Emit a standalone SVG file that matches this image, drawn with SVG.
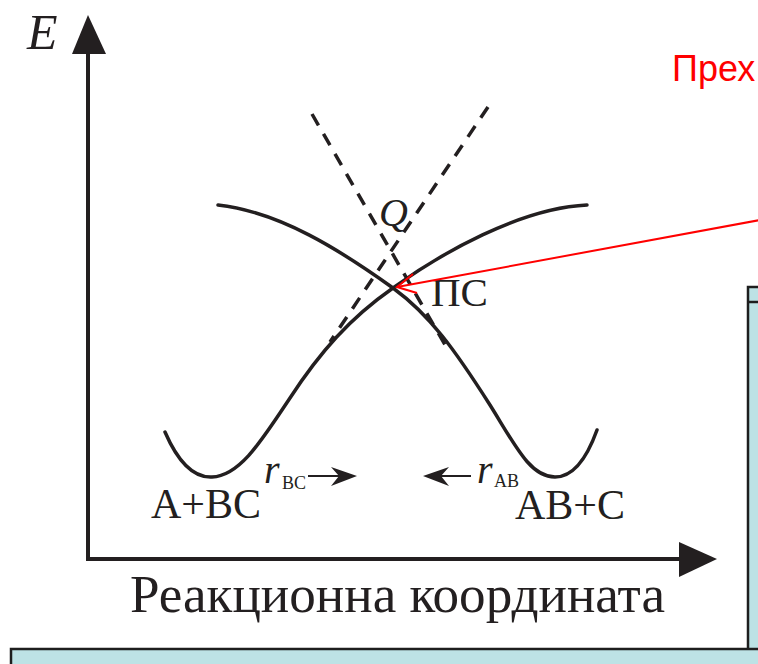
<svg xmlns="http://www.w3.org/2000/svg" width="758" height="664" viewBox="0 0 758 664">
  <style>
    .serif { font-family: "Liberation Serif", "Times New Roman", serif; fill: #231f20; }
    .ital { font-style: italic; }
    .curve { fill: none; stroke: #231f20; stroke-width: 3.5; stroke-linecap: round; }
    .dash { fill: none; stroke: #231f20; stroke-width: 3.5; stroke-dasharray: 13 10; }
    .axis { fill: none; stroke: #231f20; stroke-width: 4; }
    .head { fill: #231f20; }
    .panel { fill: #bde2e5; stroke: #1e1e1e; stroke-width: 2.5; }
    .red { font-family: "Liberation Sans", Arial, sans-serif; fill: #ff0000; }
  </style>
  <rect width="758" height="664" fill="#ffffff"/>

  <g id="panels">
    <rect class="panel" x="748" y="287" width="20" height="370"/>
    <line x1="748" y1="302" x2="758" y2="302" stroke="#1e1e1e" stroke-width="2.5"/>
    <rect class="panel" x="11" y="649" width="760" height="30"/>
  </g>

  <g id="axes">
    <polyline class="axis" points="88,45 88,559 690,559"/>
    <polygon class="head" points="88,15 106,54 72,54"/>
    <polygon class="head" points="717,559 679,542 679,577"/>
    <text class="serif ital" x="27" y="49" font-size="50">E</text>
    <text class="serif" x="130" y="612" font-size="53" textLength="535" lengthAdjust="spacingAndGlyphs">Реакционна координата</text>
  </g>

  <g id="connectors">
    <line class="dash" x1="312" y1="114" x2="448" y2="350"/>
    <line class="dash" x1="488" y1="107" x2="330" y2="342"/>
    <path class="curve" d="M165,432 C178,462 193,478 212,477 C240,476 262,440 290,398 C320,352 350,318 393,288 C440,254 520,208 587,205"/>
    <path class="curve" d="M218,205 C280,212 340,250 393,288 C430,315 455,350 490,405 C515,445 530,477 555,477 C575,477 588,455 597,430"/>
  </g>

  <g id="label-Q">
    <text class="serif ital" x="379" y="226" font-size="40">Q</text>
  </g>

  <g id="label-TS">
    <text class="serif" x="431" y="306" font-size="41">ПС</text>
  </g>

  <g id="label-reactants">
    <text class="serif" x="151" y="518" font-size="42">A+BC</text>
    <text class="serif ital" x="264" y="483" font-size="40">r</text>
    <text class="serif" x="282" y="489" font-size="18">BC</text>
    <line x1="308" y1="476" x2="340" y2="476" stroke="#231f20" stroke-width="2"/>
    <polygon class="head" points="357,476 331,467 339,476 331,486"/>
  </g>

  <g id="label-products">
    <text class="serif" x="515" y="519" font-size="42">AB+C</text>
    <text class="serif ital" x="477" y="483" font-size="40">r</text>
    <text class="serif" x="494" y="487" font-size="18">AB</text>
    <line x1="440" y1="476" x2="471" y2="476" stroke="#231f20" stroke-width="2"/>
    <polygon class="head" points="423,476 449,467 441,476 449,486"/>
  </g>

  <g id="callout">
    <text class="red" x="672" y="81" font-size="36">Прех</text>
    <line x1="397" y1="287" x2="760" y2="220" stroke="#ff0000" stroke-width="2"/>
    <polyline points="413,274 397,287 417,293" fill="none" stroke="#ff0000" stroke-width="2"/>
  </g>
</svg>
